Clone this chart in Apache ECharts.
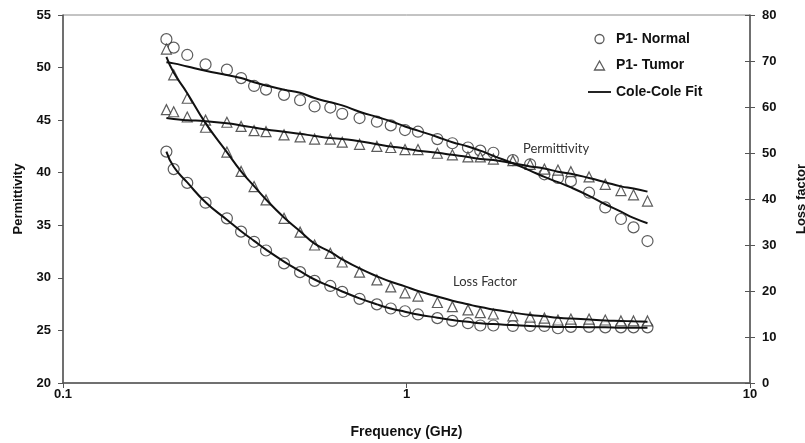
<!DOCTYPE html>
<html>
<head>
<meta charset="utf-8">
<script src="https://cdn.jsdelivr.net/npm/echarts@6/dist/echarts.min.js"></script>
<style>
html,body{margin:0;padding:0;background:#fff;overflow:hidden;}
#chart{width:805px;height:443px;}
</style>
</head>
<body>
<div id="chart"></div>
<script>
// Frequency (GHz)
var freq = [0.20,0.21,0.23,0.26,0.30,0.33,0.36,0.39,0.44,0.49,0.54,0.60,0.65,0.73,0.82,0.90,0.99,1.08,1.23,1.36,1.51,1.64,1.79,2.04,2.29,2.52,2.76,3.01,3.40,3.79,4.21,4.58,5.03];
// Permittivity (left axis)
var permNormal = [52.7,51.9,51.2,50.3,49.8,49.0,48.25,47.9,47.4,46.9,46.3,46.2,45.6,45.2,44.85,44.5,44.06,43.9,43.2,42.8,42.4,42.1,41.9,41.2,40.8,39.85,39.5,39.2,38.1,36.7,35.6,34.8,33.5];
var permTumor = [46.0,45.8,45.3,45.0,44.8,44.4,44.0,43.9,43.6,43.4,43.2,43.2,42.9,42.7,42.5,42.4,42.2,42.2,41.85,41.7,41.5,41.5,41.3,41.15,40.8,40.35,40.25,40.1,39.6,38.9,38.3,37.9,37.3];
var permNormalFit = [50.5,50.4,50.1,49.7,49.3,49.0,48.6,48.3,47.9,47.6,47.1,46.7,46.4,45.8,45.3,44.9,44.4,44.0,43.4,42.9,42.5,42.1,41.6,40.9,40.2,39.6,39.1,38.6,37.8,37.0,36.3,35.7,35.2];
var permTumorFit = [45.2,45.1,45.0,44.9,44.7,44.5,44.3,44.1,43.9,43.7,43.5,43.3,43.2,43.0,42.7,42.5,42.3,42.1,41.9,41.7,41.5,41.3,41.2,40.9,40.6,40.4,40.1,39.9,39.5,39.1,38.7,38.5,38.2];
// Loss factor (right axis)
var lossNormal = [50.3,46.5,43.5,39.2,35.8,32.9,30.7,28.8,26.0,24.1,22.2,21.1,19.8,18.3,17.1,16.2,15.6,14.9,14.1,13.5,13.0,12.5,12.5,12.4,12.4,12.4,11.9,12.2,12.2,12.1,12.1,12.1,12.1];
var lossTumor = [72.6,67.0,61.9,55.6,50.2,46.0,42.7,39.8,35.8,32.8,30.0,28.2,26.3,24.1,22.4,20.9,19.6,18.9,17.5,16.6,15.9,15.3,15.0,14.6,14.3,14.1,13.7,13.9,13.9,13.7,13.5,13.5,13.5];
var lossNormalFit = [50.3,47.0,43.6,39.3,35.5,33.0,30.9,29.0,26.4,24.3,22.5,21.0,19.9,18.4,17.1,16.2,15.5,14.9,14.2,13.7,13.3,13.0,12.8,12.6,12.4,12.3,12.2,12.2,12.1,12.1,12.0,12.0,12.0];
var lossTumorFit = [70.9,67.5,63.0,56.5,50.2,46.0,42.8,39.9,36.0,33.0,30.3,28.5,26.9,24.9,23.2,22.0,21.0,20.0,18.8,17.9,17.1,16.5,16.0,15.3,14.8,14.5,14.2,14.0,13.8,13.6,13.5,13.4,13.3];
// Tick labels
var xTicks = [0.1, 1, 10];
var leftTicks = [20,25,30,35,40,45,50,55];
var rightTicks = [0,10,20,30,40,50,60,70,80];

function pairs(ys){ return freq.map(function(f,i){ return [f, ys[i]]; }); }

var AX = '#555';
var FONT = '"Liberation Sans", Arial, sans-serif';
var labelStyle = {fontFamily: FONT, fontWeight: 'bold', fontSize: 13, color: '#111'};

function scatter(name, ys, yi, sym, size){
  return {type:'scatter', name:name, yAxisIndex:yi, data:pairs(ys), symbol:sym, symbolSize:size,
    itemStyle:{color:'#fff', borderColor:'#333', borderWidth:1.2}, z:2, silent:true};
}
function fit(ys, yi){
  return {type:'line', name:'Cole-Cole Fit', yAxisIndex:yi, data:pairs(ys), smooth:true, symbol:'none',
    showSymbol:false, lineStyle:{color:'#111', width:2}, itemStyle:{color:'#111'}, z:3, silent:true};
}

var chart = echarts.init(document.getElementById('chart'), null, {renderer:'canvas'});
chart.setOption({
  animation:false,
  backgroundColor:'#fff',
  grid:{left:63, right:55, top:15, bottom:60, show:true, borderColor:'#888', borderWidth:1,
        containLabel:false, outerBoundsMode:'none'},
  legend:{
    orient:'vertical', left:583, top:27, itemGap:12.5, itemWidth:23, itemHeight:9,
    textStyle:{fontFamily:FONT, fontWeight:'bold', fontSize:14, color:'#111'},
    data:[
      {name:'P1- Normal', icon:'path://M10,5A5,5 0 1 1 0,5A5,5 0 1 1 10,5Z', itemStyle:{color:'#fff', borderColor:'#333', borderWidth:1.3}},
      {name:'P1- Tumor', icon:'path://M5,0L10,9L0,9Z', itemStyle:{color:'#fff', borderColor:'#333', borderWidth:1.3}},
      {name:'Cole-Cole Fit', icon:'path://M0,0H50V4H0Z', itemStyle:{color:'#111', borderWidth:0}}
    ]
  },
  xAxis:{
    type:'log', logBase:10, min:0.1, max:10,
    name:'Frequency (GHz)', nameLocation:'middle', nameGap:42,
    nameTextStyle:{fontFamily:FONT, fontWeight:'bold', fontSize:14, color:'#111'},
    axisLine:{lineStyle:{color:AX, width:1.5}},
    axisTick:{show:true, inside:false, length:5, lineStyle:{color:AX}},
    minorTick:{show:false}, splitLine:{show:false},
    axisLabel:Object.assign({margin:5, formatter:function(v){ return xTicks.indexOf(+v.toPrecision(3))>=0 ? String(+v.toPrecision(3)) : ''; }}, labelStyle)
  },
  yAxis:[{
    type:'value', position:'left', min:leftTicks[0], max:leftTicks[leftTicks.length-1], interval:5,
    name:'Permittivity', nameLocation:'middle', nameGap:38,
    nameTextStyle:{fontFamily:FONT, fontWeight:'bold', fontSize:13, color:'#111'},
    axisLine:{show:true, lineStyle:{color:AX, width:1.5}},
    axisTick:{show:true, inside:false, length:5, lineStyle:{color:AX}},
    splitLine:{show:false},
    axisLabel:Object.assign({margin:12}, labelStyle)
  },{
    type:'value', position:'right', min:rightTicks[0], max:rightTicks[rightTicks.length-1], interval:10,
    name:'Loss factor', nameLocation:'middle', nameGap:45, nameRotate:90,
    nameTextStyle:{fontFamily:FONT, fontWeight:'bold', fontSize:13, color:'#111'},
    axisLine:{show:true, lineStyle:{color:AX, width:1.5}},
    axisTick:{show:true, inside:false, length:5, lineStyle:{color:AX}},
    splitLine:{show:false},
    axisLabel:Object.assign({margin:12}, labelStyle)
  },{
    type:'value', position:'right', min:0, max:80, interval:10,
    axisLine:{show:false}, axisTick:{show:true, inside:true, length:5, lineStyle:{color:AX}},
    axisLabel:{show:false}, splitLine:{show:false}
  }],
  graphic:[
    {type:'text', left:523, top:142, silent:true, style:{text:'Permittivity', fontFamily:'Lato, "Open Sans", sans-serif', fontSize:13, fill:'#333'}},
    {type:'text', left:453, top:275, silent:true, style:{text:'Loss Factor', fontFamily:'Lato, "Open Sans", sans-serif', fontSize:13, fill:'#333'}}
  ],
  series:[
    scatter('P1- Normal', permNormal, 0, 'circle', 11),
    scatter('P1- Tumor', permTumor, 0, 'triangle', 10),
    scatter('P1- Normal', lossNormal, 1, 'circle', 11),
    scatter('P1- Tumor', lossTumor, 1, 'triangle', 10),
    fit(permNormalFit, 0),
    fit(permTumorFit, 0),
    fit(lossNormalFit, 1),
    fit(lossTumorFit, 1)
  ]
});
</script>
</body>
</html>
